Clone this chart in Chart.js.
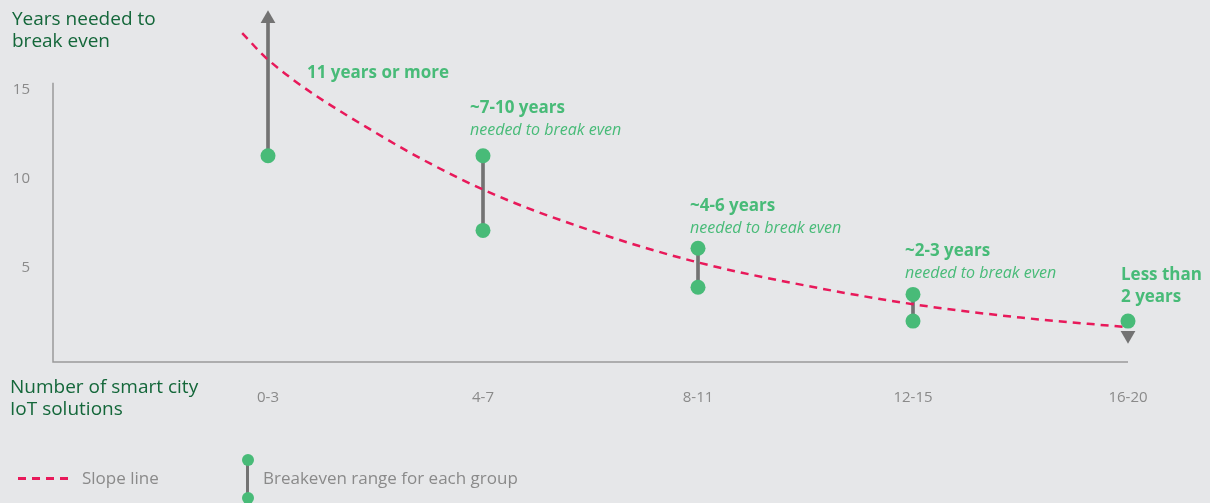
<!DOCTYPE html>
<html>
<head>
<meta charset="utf-8">
<script src="https://cdn.jsdelivr.net/npm/chart.js@4/dist/chart.umd.min.js"></script>
<style>
  html, body { margin: 0; padding: 0; background: #e6e7e9; }
  #wrap { position: relative; width: 1210px; height: 503px; font-family: "Open Sans", Lato, sans-serif; }
  #wrap canvas { position: absolute; left: 0; top: 0; }
  .lbl { position: absolute; white-space: nowrap; }
  .axis-title { color: #14673a; font-size: 19px; line-height: 22px; }
  .ann { color: #48bb78; font-size: 17px; line-height: 22px; }
  .ann b { font-weight: 700; }
  .ann i { font-size: 16px; }
  .leg { color: #8a8a8a; font-size: 17px; }
</style>
</head>
<body>
<div id="wrap">
  <canvas id="chart" width="1210" height="503"></canvas>

  <div class="lbl axis-title" style="left:12px; top:7px;">Years needed to<br>break even</div>
  <div class="lbl axis-title" style="left:10px; top:375px;">Number of smart city<br>IoT solutions</div>

  <div class="lbl ann" style="left:307px; top:61px;"><b>11 years or more</b></div>
  <div class="lbl ann" style="left:470px; top:96px;"><b>~7-10 years</b><br><i>needed to break even</i></div>
  <div class="lbl ann" style="left:690px; top:194px;"><b>~4-6 years</b><br><i>needed to break even</i></div>
  <div class="lbl ann" style="left:905px; top:239px;"><b>~2-3 years</b><br><i>needed to break even</i></div>
  <div class="lbl ann" style="left:1121px; top:263px;"><b>Less than<br>2 years</b></div>

  <div class="lbl" style="left:18px; top:477px; width:50px; height:3px; background: repeating-linear-gradient(90deg, #e8195a 0 8px, transparent 8px 14px);"></div>
  <div class="lbl leg" style="left:82px; top:466px;">Slope line</div>
  <div class="lbl" style="left:246px; top:460px; width:3px; height:38px; background:#737373;"></div>
  <div class="lbl" style="left:241.5px; top:453.5px; width:12px; height:12px; border-radius:50%; background:#48bb78;"></div>
  <div class="lbl" style="left:241.5px; top:492px; width:12px; height:12px; border-radius:50%; background:#48bb78;"></div>
  <div class="lbl leg" style="left:263px; top:466px;">Breakeven range for each group</div>
</div>

<script>
// groups on the x axis
let groups = ['0-3', '4-7', '8-11', '12-15', '16-20'];

// breakeven ranges (years)
let rangeLow  = [11.3, 7.1, 3.9, 2.0, 2.0];
let rangeHigh = [19.0, 11.3, 6.1, 3.5, 2.0];

// dots drawn at each end of the range (0-3 and 16-20 only have one)
let dotX = [0, 1, 1, 2, 2, 3, 3, 4];
let dotY = [11.3, 11.3, 7.1, 6.1, 3.9, 3.5, 2.0, 2.0];

// arrow heads: open ended ranges
let arrowX = [0, 4];
let arrowY = [19.0, 1.2];
let arrowRot = [0, 180];

// slope line
let slopeX = [-0.12, 0, 0.5, 1, 1.5, 2, 2.5, 3, 3.5, 4, 4.13];
let slopeY = [18.2, 16.7, 12.6, 9.4, 7.1, 5.3, 4.0, 2.95, 2.2, 1.65, 1.5];

// y tick labels, top of the drawn y axis line
let yTicks = [5, 10, 15];
let yAxisTop = 15.4;

let green = '#48bb78';
let grey = '#737373';
let red = '#e8195a';
let axisGrey = '#9a9a9a';

// axis lines (the y line stops at 15.4, not at the top of the chart area)
let axisLines = {
    id: 'axisLines',
    beforeDatasetsDraw(chart) {
        let c = chart.ctx;
        let a = chart.chartArea;
        let y = chart.scales.y;
        c.save();
        c.strokeStyle = axisGrey;
        c.lineWidth = 1.5;
        c.beginPath();
        c.moveTo(a.left, y.getPixelForValue(yAxisTop));
        c.lineTo(a.left, a.bottom);
        c.lineTo(a.right, a.bottom);
        c.stroke();
        c.restore();
    }
};

let ctx = document.getElementById('chart');

let chart = new Chart(ctx, {
    data: {
        datasets: [
            {
                type: 'line',
                label: 'Slope line',
                data: slopeX.map((x, i) => ({ x: x, y: slopeY[i] })),
                borderColor: red,
                borderWidth: 2.5,
                borderDash: [8, 6],
                pointRadius: 0,
                cubicInterpolationMode: 'monotone',
                clip: false,
                order: 1
            },
            {
                type: 'scatter',
                label: 'Arrows',
                data: arrowX.map((x, i) => ({ x: x, y: arrowY[i] })),
                pointStyle: 'triangle',
                rotation: arrowRot,
                pointRadius: 8.5,
                backgroundColor: grey,
                borderWidth: 0,
                clip: false,
                order: 4
            },
            {
                type: 'bar',
                label: 'Breakeven range',
                data: groups.map((g, i) => ({ x: i, y: [rangeLow[i], rangeHigh[i]] })),
                backgroundColor: grey,
                barThickness: 3,
                borderSkipped: false,
                clip: false,
                order: 3
            },
            {
                type: 'scatter',
                label: 'Ends',
                data: dotX.map((x, i) => ({ x: x, y: dotY[i] })),
                backgroundColor: green,
                borderWidth: 0,
                pointRadius: 7.5,
                clip: false,
                order: 0
            }
        ]
    },
    plugins: [axisLines],
    options: {
        responsive: false,
        animation: false,
        layout: {
            autoPadding: false,
            padding: { top: 1, right: 82, bottom: 91, left: 0 }
        },
        plugins: {
            legend: { display: false },
            tooltip: { enabled: false }
        },
        scales: {
            x: {
                type: 'linear',
                offset: false,
                min: -1,
                max: 4,
                grid: { display: false, drawTicks: false },
                border: { display: false },
                afterBuildTicks: function(scale) {
                    scale.ticks = groups.map((g, i) => ({ value: i }));
                },
                afterFit: function(scale) { scale.height = 50; },
                ticks: {
                    padding: 27,
                    color: '#8a8a8a',
                    font: { family: 'Open Sans', size: 15 },
                    callback: function(v) { return groups[v]; }
                }
            },
            y: {
                min: -0.3,
                max: 20,
                grid: { display: false, drawTicks: false },
                border: { display: false },
                afterBuildTicks: function(scale) {
                    scale.ticks = yTicks.map(v => ({ value: v }));
                },
                afterFit: function(scale) {
                    scale.width = 53;
                    // tick padding would otherwise push the chart area down
                    scale.paddingTop = 0;
                    scale.paddingBottom = 0;
                },
                ticks: {
                    padding: 23,
                    color: '#8a8a8a',
                    font: { family: 'Open Sans', size: 15 }
                }
            }
        }
    }
});
</script>
</body>
</html>
